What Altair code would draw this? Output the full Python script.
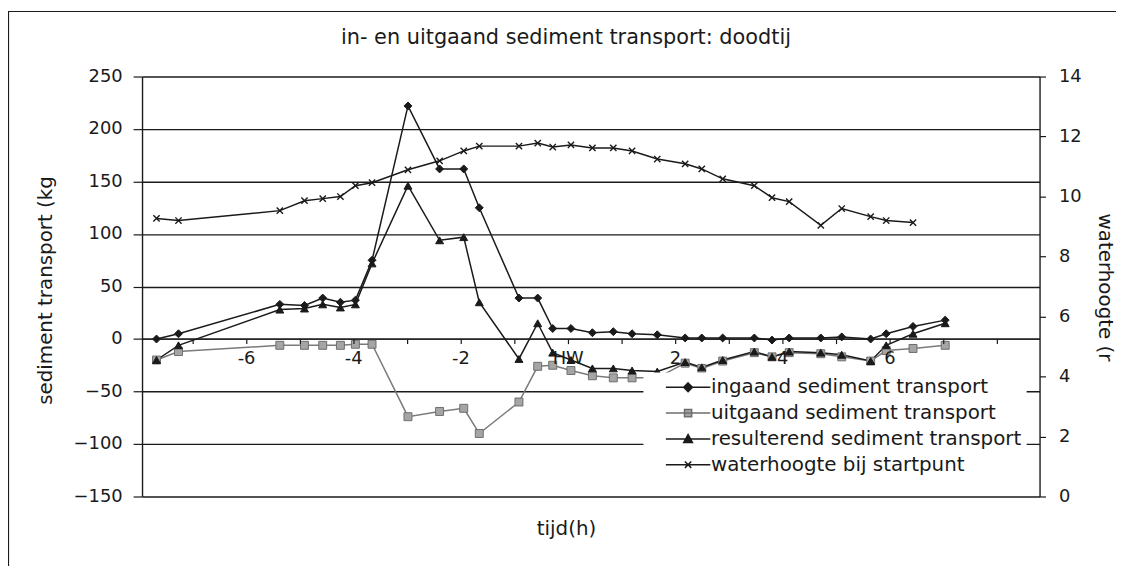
import altair as alt
import pandas as pd

# ---- data ----
tijd = [-7.67, -7.26, -5.37, -4.91, -4.57, -4.24, -3.96, -3.65, -2.98, -2.39, -1.94, -1.65,
        -0.91, -0.56, -0.28, 0.06, 0.46, 0.85, 1.20, 1.67, 2.19, 2.50, 2.89, 3.48, 3.81,
        4.13, 4.72, 5.11, 5.65, 5.94, 6.44, 7.04]
ingaand = [0, 5, 33, 32, 39, 35, 37, 75, 222, 162, 162, 125, 39, 39, 10, 10, 6, 7, 5, 4,
           1, 1, 1, 1, -1, 1, 1, 2, 0, 5, 12, 18]
uitgaand = [-20, -12, -6, -6, -6, -6, -5, -5, -74, -69, -66, -90, -60, -26, -25, -30,
            -35, -37, -37, -37, -23, -28, -21, -13, -17, -13, -14, -17, -21, -11, -9, -6]
resulterend = [-20, -6, 28, 29, 33, 30, 33, 72, 146, 94, 97, 35, -19, 15, -13, -20,
               -28, -28, -30, -31, -22, -27, -20, -12, -17, -12, -13, -15, -21, -6, 5, 15]
waterhoogte = [9.27, 9.20, 9.53, 9.86, 9.93, 10.00, 10.36, 10.46, 10.89, 11.19, 11.52, 11.68,
               11.68, 11.78, 11.65, 11.72, 11.62, 11.62, 11.52, 11.25, 11.09, 10.92, 10.59,
               10.36, 9.96, 9.83, 9.04, 9.60, 9.33, 9.20, 9.13]

series_names = ["ingaand sediment transport", "uitgaand sediment transport",
                "resulterend sediment transport", "waterhoogte bij startpunt"]
x_ticks = list(range(-7, 9))
left_ticks = [-150, -100, -50, 0, 50, 100, 150, 200, 250]
right_ticks = [0, 2, 4, 6, 8, 10, 12, 14]

long_rows = []
for name, vals in zip(series_names[:3], [ingaand, uitgaand, resulterend]):
    for t, v in zip(tijd, vals):
        long_rows.append({"tijd": t, "serie": name, "waarde": v})
df = pd.DataFrame(long_rows)
dfw = pd.DataFrame({"tijd": tijd[:len(waterhoogte)], "waterhoogte": waterhoogte})

FONT = "DejaVu Sans"
INK = "#1a1a1a"
FS = 18      # tick labels
FT = 20      # axis titles and legend

xscale = alt.Scale(domain=[-7.94, 8.8], nice=False, zero=False)
yl = alt.Scale(domain=[-150, 250], nice=False, zero=False)
yr = alt.Scale(domain=[0, 14], nice=False, zero=False)

x_axis = alt.Axis(
    values=x_ticks,
    labelExpr="datum.value == 0 ? 'HW' : ((datum.value % 2 == 0 && datum.value < 8) ? '' + datum.value : '')",
    offset=-159, grid=False, domainColor=INK, domainWidth=1.4,
    tickColor=INK, tickSize=5, tickWidth=1.2, labelPadding=6,
    labelFont=FONT, labelFontSize=FS, labelColor=INK, labelFlush=False,
    title="tijd(h)", titleFont=FONT, titleFontSize=FT, titleFontWeight="normal",
    titleColor=INK, titleX=427, titleY=191, titleBaseline="middle", titleAlign="center",
    zindex=1,
)

left_axis = alt.Axis(
    values=left_ticks, grid=True, gridColor=INK, gridWidth=1.4,
    domainColor=INK, domainWidth=1.4, tickColor=INK, tickSize=9, tickWidth=1.2,
    labelPadding=11, labelFont=FONT, labelFontSize=FS, labelColor=INK,
    title="sediment transport (kg", titleFont=FONT, titleFontSize=FT,
    titleFontWeight="normal", titleColor=INK, titleAngle=270, titleX=-97, titleY=215,
    titleBaseline="middle", titleAlign="center",
)
right_axis = alt.Axis(
    orient="right", values=right_ticks, grid=False,
    domainColor=INK, domainWidth=1.4, tickColor=INK, tickSize=6, tickWidth=1.2,
    labelPadding=13, labelFont=FONT, labelFontSize=FS, labelColor=INK,
    title="waterhoogte (r", titleFont=FONT, titleFontSize=FT,
    titleFontWeight="normal", titleColor=INK, titleAngle=90, titleX=65, titleY=212,
    titleBaseline="middle", titleAlign="center",
)

legend_paths = [
    "M-5.6,0H5.6M0,-1.1L1.1,0L0,1.1L-1.1,0Z",
    "M-5.6,0H5.6M-0.9,-0.9H0.9V0.9H-0.9Z",
    "M-5.6,0H5.6M0,-1.1L1.1,0.9H-1.1Z",
    "M-5.6,0H5.6M-0.8,-0.8L0.8,0.8M-0.8,0.8L0.8,-0.8",
]
point_paths = ["diamond", "square", "triangle-up", "M-1,-1L1,1M-1,1L1,-1"]
fills = [INK, "#a5a5a5", INK, INK]
strokes = [INK, "#6e6e6e", INK, INK]
line_colors = [INK, "#7a7a7a", INK, INK]

X = alt.X("tijd:Q", scale=xscale, axis=x_axis)
YL = alt.Y("waarde:Q", scale=yl, axis=left_axis)

sed_base = alt.Chart(df).encode(x=X, y=YL)
sed_lines = sed_base.mark_line(strokeWidth=1.5).encode(
    stroke=alt.Stroke("serie:N", scale=alt.Scale(domain=series_names, range=line_colors), legend=None),
    detail="serie:N",
)
sed_pts = sed_base.mark_point(filled=True, opacity=1, strokeWidth=1, size=64).encode(
    shape=alt.Shape("serie:N", scale=alt.Scale(domain=series_names, range=point_paths), legend=None),
    fill=alt.Fill("serie:N", scale=alt.Scale(domain=series_names, range=fills), legend=None),
    stroke=alt.Stroke("serie:N", scale=alt.Scale(domain=series_names, range=strokes), legend=None),
)

leg_def = alt.Legend(
    title=None, orient="none", legendX=505, legendY=298, padding=5, fillColor="white",
    labelFont=FONT, labelFontSize=FT, labelColor=INK, labelLimit=500,
    symbolSize=64, symbolStrokeWidth=1.5, symbolOffset=30, labelOffset=13, rowPadding=6,
)
legend_layer = sed_base.transform_filter("false").mark_point(
    filled=True, opacity=1, strokeWidth=1.5).encode(
    shape=alt.Shape("serie:N", scale=alt.Scale(domain=series_names, range=legend_paths), legend=leg_def),
    fill=alt.Fill("serie:N", scale=alt.Scale(domain=series_names, range=fills), legend=leg_def),
    stroke=alt.Stroke("serie:N", scale=alt.Scale(domain=series_names, range=strokes), legend=leg_def),
)

sed_group = alt.layer(sed_lines, sed_pts, legend_layer).resolve_scale(
    stroke="independent", shape="independent", fill="independent")

wbase = alt.Chart(dfw).encode(
    x=X, y=alt.Y("waterhoogte:Q", scale=yr, axis=right_axis))
w_line = wbase.mark_line(color=INK, strokeWidth=1.5)
w_pts = wbase.mark_point(shape="M-1,-1L1,1M-1,1L1,-1", filled=False, color=INK,
                         strokeWidth=1.4, size=40, opacity=1)
w_group = alt.layer(w_line, w_pts)

# outer chart-area border (only its left and top edges fall inside the picture)
frame = alt.Chart(pd.DataFrame({"f": [0]})).mark_rect(
    fillOpacity=0, stroke=INK, strokeWidth=1.2).encode(
    x=alt.value(-134.5), x2=alt.value(1000), y=alt.value(-65.5), y2=alt.value(520))

chart = alt.layer(sed_group, w_group, frame).resolve_scale(y="independent").properties(
    width=904, height=423,
    padding={"left": 135, "top": 67, "right": 77, "bottom": 70},
    autosize=alt.AutoSizeParams(type="none"),
    background="white",
    title=alt.TitleParams("in- en uitgaand sediment transport: doodtij", font=FONT,
                          fontSize=21, fontWeight="normal", color=INK, anchor="middle",
                          dx=-25, offset=-37),
).configure_view(stroke=None)

chart.save("out.html", embed_options={"renderer": "svg", "actions": False})
